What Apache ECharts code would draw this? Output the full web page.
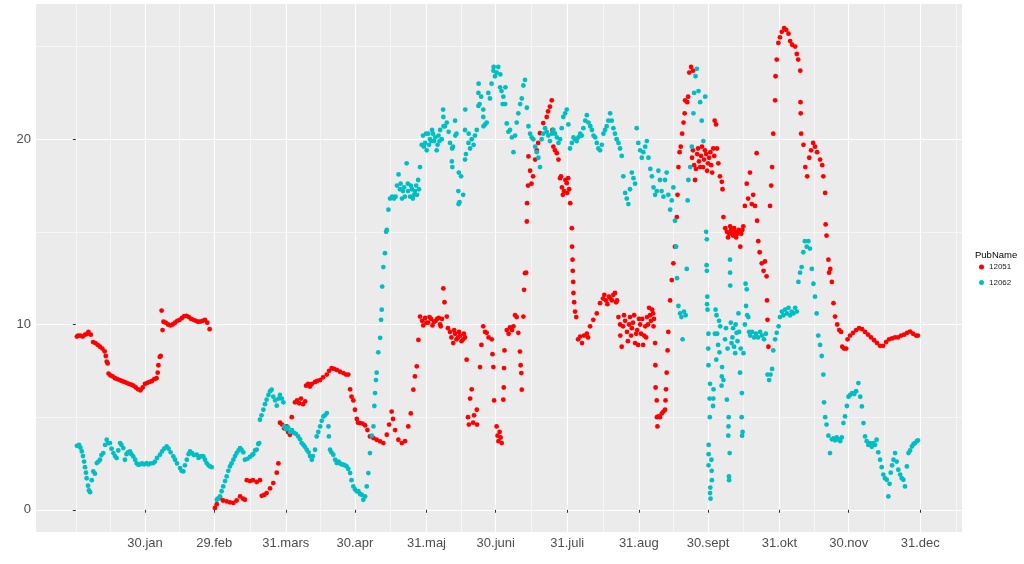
<!DOCTYPE html>
<html><head><meta charset="utf-8">
<script src="https://cdn.jsdelivr.net/npm/echarts@6/dist/echarts.min.js"></script>
<style>html,body{margin:0;padding:0;background:#fff}#c{width:1024px;height:564px}</style>
</head><body><div id="c"></div>
<script>
const seriesNames = ['12051', '12062'];
const seriesColors = ['#FF0000', '#00BFC4'];
const xTickDays = [30, 60, 91, 121, 152, 182, 213, 244, 274, 305, 335, 366];
const xTickLabels = ['30.jan', '29.feb', '31.mars', '30.apr', '31.maj', '30.juni', '31.juli', '31.aug', '30.sept', '31.okt', '30.nov', '31.dec'];
const xMinorDays = [0, 15, 45, 75.5, 106, 136.5, 167, 197.5, 228.5, 259, 289.5, 320, 350.5, 381.5];
const yTicks = [0, 10, 20];
const yMinor = [5, 15, 25];

// [day of year, value] — main trace
const pts12051 = [[0.5,9.35],[1,9.4],[2,9.4],[3,9.35],[4,9.45],[5,9.5],[5.5,9.6],[6.5,9.45],[7.5,9.05],[8.5,9.0],[9.5,8.9],[10.5,8.8],[11.5,8.7],[12.5,8.55],[13,8.3],[13.4,8.0],[13.8,7.9],[14.2,7.35],[15,7.25],[16,7.2],[17,7.1],[18,7.05],[19,7.0],[20,6.95],[21,6.9],[22,6.85],[23,6.8],[24,6.75],[25,6.7],[26,6.6],[27,6.5],[28,6.45],[29,6.6],[30,6.8],[31,6.85],[32,6.9],[33,6.95],[34,7.05],[35,7.1],[35.5,7.4],[35.8,7.8],[36.4,8.25],[36.8,8.3],[37.2,10.75],[37.6,9.7],[38,10.15],[39,10.1],[40,10.0],[41,9.95],[42,10.0],[43,10.1],[44,10.2],[45,10.25],[46,10.35],[47,10.45],[48,10.47],[49,10.4],[50,10.3],[51,10.25],[52,10.2],[53,10.15],[54,10.16],[55,10.2],[56,10.25],[57,10.1],[58,9.75],
[60.3,0.1],[61.1,0.3],[62.5,0.65],[63.8,0.5],[65.4,0.45],[66.8,0.4],[68.3,0.37],[69.7,0.5],[71.2,0.72],[72.5,0.6],[73.3,0.54],[74.1,1.6],[75.5,1.55],[76.8,1.6],[78.4,1.5],[79.8,1.6],[80.6,0.75],[81.6,0.8],[82.7,0.9],[84.2,1.15],[85.6,1.44],[87.1,2.0],[87.8,2.5],[88.5,4.7],[89.4,4.6],[90.3,4.4],[91.4,4.5],[92,4.2],[92.8,4.05],[93.6,5.0],[95,5.8],[95.9,5.9],[96.8,5.75],[97.6,6.0],[98.5,5.7],[99.4,5.85],[99.8,6.7],[100.7,6.8],[101.5,6.65],[102.4,6.8],[103.7,6.9],[104.6,6.95],[105.9,7.0],[107.2,7.15],[108.8,7.3],[109.8,7.5],[110.9,7.65],[111.9,7.6],[113.1,7.55],[114.5,7.45],[116,7.38],[117.1,7.3],[118.1,7.3],[118.9,6.5],[119.5,6.1],[120.3,5.9],[121,5.4],[121.8,4.9],[122.3,4.7],[123.2,4.68],[124.3,4.65],[125.4,4.55],[126.4,4.3],[127.5,3.96],[129,3.87],[130.4,3.78],[131.9,3.69],[133.3,3.6],[134.8,4.05],[135.8,4.6],[136.9,5.3],[137.5,4.9],[138.4,4.3],[139.8,3.78],[141.3,3.6],[142.7,3.7],[144.1,4.5],[145.2,5.2],[146.3,6.48],[147,7.2],[147.8,7.74],[148.5,9.17],[149.2,10.43],[150.1,10.2],[151.4,10.35],[152.7,10.1],[154,10.3],[155.3,10.15],[156.6,10.3],[157.9,10.0],[158.7,10.3],[159.3,11.95],[159.8,11.2],[160.8,10.43],[161.3,9.8],[162.2,9.6],[163.6,9.0],[164.4,9.5],[165.7,9.3],[166.6,9.4],[167.9,9.2],[168.7,9.3],[169.4,8.1],[170,5.0],[170.4,4.6],[170.9,6.0],[171.6,6.5],[172.2,4.7],[172.6,5.1],[173.8,5.4],[173.9,4.6],[175.2,7.7],[175.8,8.9],[176.6,9.9],[177.4,9.6],[178.1,9.55],[178.9,9.3],[180.3,9.2],[180.6,8.4],[181,7.7],[181.3,5.9],[182.4,4.5],[182.8,4.0],[183.2,3.7],[183.7,4.2],[184.1,3.9],[184.6,3.6],[185.3,5.94],[185.5,6.6],[185.6,7.65],[185.8,8.6],[186.8,9.7],[187.6,9.5],[188.2,9.85],[189.1,9.7],[189.7,9.9],[190.4,10.5],[191.1,10.4],[191.8,9.55],[192.5,8.54],[192.8,7.8],[193.1,7.38],[193.3,6.48],[194,10.43],[194.3,11.87],[194.7,12.77],[195.2,12.8],[195.5,15.56],[195.6,16.55],[196,17.5],[196.2,19.07],[196.9,18.3],[197.5,17.6],[198.2,18.0],[199.1,18.9],[199.8,19.4],[200.4,19.8],[201.2,20.33],[202.6,20.87],[204.1,21.2],[204.7,21.5],[205.5,21.76],[206.3,22.1],[206.6,20.5],[207,19.6],[207.7,19.4],[208.5,19.25],[209.2,18.9],[209.9,17.9],[210.7,17.4],[211.6,17.2],[212.8,17.63],[213.4,17.9],[213.8,17.3],[214.3,16.55],[215,15.2],[215.1,14.2],[215.3,13.5],[215.4,12.9],[215.6,12.3],[215.7,11.7],[216,11.2],[216.4,10.7],[216.9,10.4],[217.7,9.2],[218.6,9.35],[219.4,9.0],[220.3,9.4],[221.5,9.5],[222,9.3],[222.9,9.9],[224.3,10.25],[225.8,10.6],[227.2,11.15],[228.5,11.4],[229.8,11.3],[231.1,11.5],[232.4,11.3],[233.7,11.7],[234.6,11.3],[235.2,10.4],[235.9,10.0],[236.6,8.8],[237.2,9.9],[238.1,10.2],[238.9,9.6],[239.8,10.0],[240.7,9.4],[241.5,10.1],[242.4,9.0],[243.3,9.7],[244.1,10.3],[245,9.5],[245.9,8.9],[246.8,9.9],[247.6,10.4],[248.5,10.9],[249.3,10.2],[250.2,10.6],[250.6,10.3],[251.1,9.0],[251.2,7.8],[251.3,6.6],[251.8,5.9],[251.9,5.0],[252.1,4.5],[252.5,5.04],[253.2,5.0],[254,5.2],[254.7,5.3],[255.4,5.4],[255.6,5.9],[255.8,6.5],[256.1,7.4],[256.5,8.6],[256.8,9.6],[257.6,11.3],[258.3,12.4],[259,13.3],[259.7,14.2],[260.5,15.8],[260.8,17.0],[261.2,18.5],[261.7,19.3],[262.2,19.6],[262.8,20.3],[263.4,20.9],[263.9,21.4],[264.1,22.1],[265,22.0],[265.4,22.3],[265.9,23.6],[266.7,23.9],[267.6,23.7],[267.1,19.0],[268,18.6],[268.4,17.8],[269.3,19.2],[270.1,18.8],[271,19.1],[271.9,18.5],[272.7,19.4],[273.6,18.3],[274.5,19.0],[275.4,18.6],[276.3,19.5],[276.9,21.0],[277.5,20.8],[277.9,19.5],[278.5,18.7],[279.2,18.0],[280,17.7],[280.3,17.3],[280.7,15.8],[282.2,15.0],[283.2,14.9],[284,15.1],[284.9,14.8],[285.8,15.0],[286.7,14.9],[288,14.2],[288.9,15.1],[289.3,15.3],[290,16.4],[290.8,17.6],[291.4,16.8],[292.2,18.2],[293,16.5],[293.6,17.0],[294.4,16.4],[295.1,19.25],[295.3,15.6],[295.8,14.5],[296.4,13.9],[297.3,13.3],[298.1,12.9],[298.7,13.4],[299.4,12.6],[299.6,11.3],[299.8,10.25],[300.2,8.8],[300.9,16.4],[301.4,17.5],[301.8,18.5],[302.3,20.3],[303.1,22.1],[303.3,23.4],[303.8,24.3],[304.5,25.2],[305.2,25.5],[306,25.8],[307,26.0],[307.9,25.9],[308.9,25.7],[309.6,25.3],[310.5,25.1],[311.8,25.0],[312.5,24.6],[313.1,24.3],[314,23.7],[314.1,22.0],[314.2,21.4],[314.4,20.3],[315.4,19.7],[316.2,18.5],[317,18.0],[317.9,19.0],[318.7,19.4],[319.6,19.8],[320.4,19.6],[321.3,19.3],[322.6,18.9],[323.5,18.6],[324,18.0],[324.8,17.1],[325,15.4],[325.4,14.8],[326.2,13.5],[326.5,12.8],[327,13.0],[327.7,12.3],[328.4,11.15],[329.1,10.43],[330,10.0],[330.9,9.7],[331.7,9.6],[332.2,8.8],[333,8.7],[333.9,8.7],[334.5,9.2],[335.6,9.4],[336.9,9.55],[338.2,9.7],[339.5,9.8],[340.8,9.75],[342.1,9.6],[343.4,9.45],[344.7,9.3],[346,9.15],[347.3,9.0],[348.6,8.85],[349.9,8.85],[351.2,9.05],[352.5,9.2],[353.8,9.25],[355.1,9.3],[356.4,9.3],[357.7,9.4],[359,9.45],[360.3,9.55],[361.6,9.62],[362.9,9.5],[364.2,9.4],[365,9.4]];

// extra readings inside the noisy clusters of 12051
const pts12051Spread = [[150.6,9.95],[151.9,10.1],[153.3,10.4],[154.6,9.95],[156,10.2],[157.3,10.35],[158.2,9.9],[162.8,9.3],[164,9.7],[165,9.2],[166.1,9.6],[167.2,9.1],[168.2,9.5],[210.3,18.0],[211.1,17.0],[212.2,17.8],[213,17.1],[229.1,11.6],[230.4,11.1],[231.8,11.4],[233,11.6],[234.2,11.2],[236,9.4],[237.6,10.5],[239.3,9.1],[240.2,10.4],[241,9.8],[242,10.5],[242.9,9.5],[243.7,8.9],[244.6,10.0],[245.5,10.3],[246.3,9.4],[247.2,9.3],[248,10.0],[248.9,10.5],[249.8,10.8],[250.4,9.9],[267.5,19.4],[268.8,18.4],[269.7,19.5],[270.6,18.5],[271.4,19.6],[272.3,18.9],[273.2,19.2],[274,18.7],[275,19.3],[275.8,18.2],[276.7,19.1],[281.5,15.2],[282.7,14.7],[283.6,15.3],[284.5,14.9],[285.3,15.2],[286.2,14.7],[287.3,15.1],[288.4,14.9]];

const pts12062 = [[0.5,3.45],[1.4,3.5],[2,3.35],[2.6,3.15],[3.1,2.9],[3.6,2.6],[4,2.3],[4.4,2.0],[4.7,1.7],[5.3,1.3],[5.7,1.05],[6.2,0.95],[6.9,1.6],[7.6,2.07],[8.3,1.95],[9.1,2.52],[9.8,2.6],[10.5,2.7],[11.1,2.95],[11.9,3.06],[12.7,3.5],[13.4,3.78],[14.1,3.6],[14.8,3.6],[15.5,3.3],[16.3,3.06],[17,2.9],[17.7,2.79],[18.4,3.2],[19.2,3.6],[19.8,3.5],[20.6,3.33],[21.3,2.7],[22,3.0],[22.6,3.1],[23.5,3.15],[24.1,3.0],[24.9,2.88],[25.7,2.7],[26.4,2.5],[27.1,2.43],[27.8,2.45],[28.7,2.5],[29.6,2.45],[30.7,2.52],[31.5,2.45],[32.4,2.5],[33.6,2.52],[34.3,2.6],[35.2,2.8],[36.5,2.97],[37.4,3.15],[38.3,3.3],[39.4,3.42],[40.2,3.3],[41.1,3.1],[42.3,2.88],[43,2.7],[43.9,2.5],[45.2,2.25],[45.8,2.1],[46.6,2.07],[47.3,2.4],[48.1,2.7],[48.9,3.0],[49.5,3.15],[50.4,3.05],[51.2,2.95],[52.4,2.97],[53.2,2.8],[53.8,2.88],[54.7,2.9],[55.3,2.88],[56,2.7],[56.7,2.52],[57.5,2.4],[58.2,2.34],[58.9,2.3],
[61.1,0.54],[61.6,0.6],[62.5,0.72],[63.2,1.0],[63.9,1.26],[64.7,1.55],[65.4,1.8],[66.1,2.1],[66.8,2.34],[67.5,2.5],[68.3,2.7],[69,2.9],[69.7,3.06],[70.5,3.2],[71.2,3.33],[71.8,3.25],[72.6,3.1],[73.3,2.7],[74.4,2.75],[75.5,2.85],[76.4,2.95],[76.9,3.0],[77.7,3.2],[78.4,3.25],[79.1,3.55],[79.5,3.6],[79.8,4.86],[80.5,5.1],[81.3,5.4],[82,5.7],[82.7,5.94],[83.5,6.2],[84.2,6.4],[84.9,6.48],[85.6,6.1],[86.4,5.9],[87.1,5.62],[87.9,6.0],[88.5,6.2],[89.3,6.0],[89.96,5.8],[90.3,4.5],[91.1,4.35],[92,4.45],[92.9,4.2],[93.7,4.3],[94.6,4.15],[95.4,4.1],[96.4,3.96],[97.2,3.8],[97.9,3.6],[98.7,3.5],[99.3,3.4],[100.1,3.24],[100.9,3.1],[101.5,2.9],[102.3,2.7],[102.8,2.9],[103.7,3.24],[104.4,3.96],[105.1,4.2],[105.9,4.5],[106.6,4.8],[107.3,5.04],[108,5.1],[108.8,5.22],[109.5,4.5],[109.7,3.96],[110.2,3.24],[110.8,3.1],[111.6,2.97],[112.4,2.7],[113.1,2.52],[113.9,2.6],[114.5,2.5],[115.3,2.45],[116,2.43],[116.7,2.4],[117.4,2.34],[118.1,2.2],[118.9,1.98],[119.5,1.6],[120.3,1.26],[121,1.1],[121.8,0.99],[122.5,1.0],[123.2,0.85],[123.9,0.81],[124.6,0.54],[125.4,0.72],[126.1,1.26],[126.8,1.98],[127.5,3.06],[128.3,4.0],[129,4.5],[129.4,5.6],[129.7,6.3],[130.1,7.0],[130.4,7.4],[131.1,8.5],[131.9,9.28],[132.3,10.25],[132.6,10.8],[132.8,12.05],[133.3,13.1],[134,13.85],[134.5,15.0],[134.8,15.1],[135.5,16.2],[136.2,16.8],[137.1,16.9],[137.9,16.8],[138.6,16.9],[139.2,17.5],[139.9,18.1],[140.5,17.3],[141.4,16.8],[142.3,17.4],[143.4,18.7],[144,17.2],[144.9,16.9],[145.7,17.3],[146.6,17.0],[147.5,17.5],[148.4,17.8],[149.2,18.5],[149.9,19.7],[150.5,20.2],[151.4,19.8],[152.1,19.4],[152.7,20.3],[153.5,20.0],[154.4,20.5],[155.3,19.9],[156.4,19.4],[157.2,20.2],[157.9,20.5],[158.6,20.0],[159.3,21.2],[160,20.7],[160.8,20.9],[161.6,20.4],[162.2,19.8],[163,18.8],[163.5,19.6],[164.4,21.0],[165,20.3],[165.8,17.2],[166.3,16.6],[167,18.0],[167.9,17.0],[168.7,20.5],[169.1,19.2],[170.2,19.8],[170.9,19.5],[171.6,20.0],[172.4,19.7],[173,20.2],[173.8,20.5],[174.5,22.5],[175,21.9],[175.7,22.3],[176.6,21.2],[177.4,20.8],[178.1,20.9],[178.8,22.5],[179.5,22.2],[180.2,23.0],[181,23.7],[181.7,23.4],[182.4,23.6],[183.1,23.9],[183.9,22.8],[184.5,22.6],[185.3,22.3],[186.1,21.9],[186.8,20.85],[187.5,20.4],[188.2,20.5],[189,20.1],[189.7,19.3],[190.4,20.2],[191.1,20.9],[191.8,21.4],[192.6,21.9],[193.3,22.2],[194,22.9],[194.7,23.2],[195.5,21.7],[196.2,20.7],[196.9,20.3],[197.6,20.1],[198.3,20.0],[199.1,19.6],[199.8,19.3],[200.5,19.0],[201.2,18.5],[201.9,20.0],[202.6,20.3],[203.4,20.6],[204.1,20.4],[204.8,20.2],[205.5,19.9],[206.3,20.3],[207,20.5],[207.7,20.3],[208.5,20.1],[209.2,19.8],[209.9,20.0],[210.6,20.6],[211.3,21.2],[212.1,21.4],[212.8,21.6],[213.5,20.8],[214.2,19.5],[215,19.8],[215.7,20.1],[216.4,20.0],[217.1,19.9],[217.8,20.1],[218.6,20.3],[219.3,20.2],[220,20.6],[220.8,21.0],[221.5,21.3],[222.2,20.9],[223,20.7],[223.7,20.5],[224.4,20.2],[225.1,20.1],[225.8,19.8],[226.5,19.5],[227.2,19.4],[228,19.7],[228.7,20.3],[229.4,20.5],[230.1,20.7],[230.8,21.0],[231.6,21.4],[232.3,21.0],[233,20.6],[233.7,20.3],[234.4,20.0],[235.2,19.8],[235.9,19.5],[236.6,19.1],[237.3,18.0],[238.1,17.1],[238.8,16.8],[239.5,16.5],[240.2,17.3],[241,18.2],[241.7,17.9],[242.4,17.6],[243.1,20.6],[243.8,19.8],[244.6,19.4],[245.3,19.0],[246,19.3],[246.8,19.6],[247.5,19.9],[248.2,19.0],[249,18.4],[249.7,18.0],[250.4,17.4],[251.1,17.0],[251.8,17.2],[252.5,18.3],[253.2,17.8],[253.9,17.2],[254.7,16.9],[255.4,17.8],[256.1,18.2],[256.8,17.0],[257.6,16.2],[258.3,16.7],[259,17.4],[259.7,15.6],[260.2,14.2],[260.6,12.5],[261.2,11.0],[261.9,10.6],[262.5,10.4],[263,9.2],[263.6,10.7],[264.3,10.5],[264.8,13.0],[265.2,16.7],[265.5,17.8],[266.3,18.5],[267,19.6],[267.7,21.4],[268,22.5],[268.6,23.4],[269.2,23.8],[269.9,22.6],[270.6,22.0],[271.3,21.0],[272,19.9],[272.8,22.3],[273.2,15.0],[273.4,13.2],[273.6,11.1],[274.1,8.7],[274.3,3.0],[274.7,6.0],[274.9,0.9],[275.1,0.6],[275.6,2.1],[276.3,6.0],[277,9.5],[277.7,10.5],[278.4,8.9],[279.3,9.9],[280,7.2],[280.7,7.0],[281.4,9.2],[282.2,5.94],[282.9,4.5],[283.1,1.8],[283.4,3.06],[283.6,12.8],[284.2,9.0],[284.9,9.8],[285.8,8.45],[286.4,9.55],[287.2,10.6],[287.9,7.4],[288.6,5.0],[289,4.2],[289.4,8.45],[290,10.0],[290.8,11.9],[291.5,10.4],[292.3,9.4],[293.1,9.6],[294,9.3],[294.8,9.5],[295.7,9.3],[296.6,9.6],[297.4,9.4],[298.3,9.2],[299.1,9.5],[299.8,7.3],[300.5,7.0],[301.1,7.3],[301.8,7.6],[302.3,8.6],[303.1,9.2],[303.8,9.55],[304.6,9.9],[305.2,10.4],[306,10.7],[306.7,10.5],[307.4,10.8],[308.2,10.6],[308.9,10.9],[309.6,10.5],[310.3,10.7],[311,10.6],[311.8,10.9],[312.5,10.7],[313.2,12.3],[313.9,12.8],[314.6,13.1],[315.3,13.9],[316,14.5],[316.8,14.2],[317.5,14.5],[318.2,14.1],[319,13.0],[319.7,12.2],[320.4,11.5],[321.1,10.6],[321.8,9.4],[322.6,8.9],[323.3,8.3],[324,7.3],[324.3,5.8],[324.8,5.0],[325.4,4.6],[326.2,4.0],[326.9,3.06],[327.7,3.8],[328.4,3.85],[329.1,3.75],[329.8,3.9],[330.5,3.8],[331.3,3.7],[332,3.9],[332.7,4.68],[333.4,5.04],[334.2,5.6],[334.9,6.1],[335.6,6.2],[336.5,6.3],[337.4,6.25],[338.2,6.4],[339.2,6.84],[340,6.1],[340.7,5.58],[341.4,4.68],[342.1,3.96],[342.8,3.7],[343.5,3.5],[344.2,3.6],[345,3.4],[345.7,3.6],[346.4,3.5],[347.1,3.78],[347.8,3.1],[348.6,2.7],[349.3,2.3],[350,1.9],[350.7,1.7],[351.5,1.62],[352.2,0.72],[352.7,1.4],[353.2,2.0],[353.8,2.4],[354.4,2.7],[355.1,3.06],[355.8,2.6],[356.5,2.16],[357.3,1.9],[358,1.7],[358.7,1.62],[359.4,1.26],[360.2,2.34],[360.9,3.06],[361.6,3.2],[362.4,3.42],[363.1,3.55],[363.8,3.6],[364.5,3.7],[365,3.75]];

// extra readings inside the noisy clusters of 12062
const pts12062Spread = [[140.8,17.6],[141.8,17.2],[142.6,16.9],[143.9,17.6],[145.2,17.5],[146.1,16.8],[147,17.2],[147.9,17.0],[148.7,17.3],[150.9,19.6],[151.8,20.3],[153.1,19.7],[154,19.9],[154.8,20.3],[155.8,20.1],[156.8,19.7],[157.6,19.9],[159.4,20.7],[159.2,21.6],[163.1,19.5],[163.2,18.5],[164.5,20.2],[165.9,16.5],[166,18.2],[168.7,18.9],[168.8,21.6],[170.3,20.3],[174.5,21.8],[174.6,23.0],[176.6,21.6],[176.7,20.7],[181.1,23.9],[184,23.5],[185,21.9],[186.2,22.8],[273.5,14.6],[273.5,12.9],[273.7,11.5],[273.8,10.8],[274.2,9.5],[274.2,7.8],[274.8,5.0],[274.9,6.8],[274.25,2.4],[274.3,3.5],[275.0,1.2],[275.5,2.7],[275.7,1.6],[276.2,5.6],[276.4,6.5],[277.3,10.8],[277.6,8.1],[278,9.5],[278.8,10.2],[279,8.5],[280.1,7.7],[279.9,6.7],[281.8,9.8],[282.5,8.7],[283.9,10.1],[284.6,9.3],[285.3,8.8],[286,10.0],[286.8,9.1],[287.5,9.6],[288.2,8.7],[282.8,4.0],[283,5.0],[283.15,1.6],[283.55,13.5],[283.65,12.1],[288.7,6.3],[288.8,4.0],[290.3,12.2],[290.5,11.0],[291,10.5],[291.8,9.6]];

const FONT = '"Liberation Sans", Arial, sans-serif';
const chart = echarts.init(document.getElementById('c'), null, {renderer: 'canvas'});
const X_MIN = -17.25, X_MAX = 384.1, Y_MIN = -1.2, Y_MAX = 27.3;

chart.setOption({
  animation: false,
  backgroundColor: '#ffffff',
  grid: {left: 36, right: 62, top: 4, bottom: 32, show: true, backgroundColor: '#EBEBEB', borderWidth: 0},
  xAxis: [
    {
      type: 'value', min: X_MIN, max: X_MAX, position: 'bottom',
      axisLine: {show: false},
      axisTick: {show: true, length: 3, lineStyle: {color: '#333333', width: 1}, customValues: xTickDays},
      axisLabel: {
        show: true, customValues: xTickDays, margin: 5, fontSize: 13, color: '#4D4D4D', fontFamily: FONT,
        formatter: v => { const i = xTickDays.indexOf(v); return i >= 0 ? xTickLabels[i] : ''; }
      },
      splitLine: {show: true, lineStyle: {color: '#FFFFFF', width: 1.1}}
    },
    {
      type: 'value', min: X_MIN, max: X_MAX, position: 'bottom',
      axisLine: {show: false},
      axisTick: {show: false, customValues: xMinorDays},
      axisLabel: {show: false, customValues: xMinorDays},
      splitLine: {show: true, lineStyle: {color: '#FFFFFF', width: 0.55}}
    }
  ],
  yAxis: [
    {
      type: 'value', min: Y_MIN, max: Y_MAX,
      axisLine: {show: false},
      axisTick: {show: true, length: 3, lineStyle: {color: '#333333', width: 1}, customValues: yTicks},
      axisLabel: {show: true, customValues: yTicks, margin: 5, fontSize: 13, color: '#4D4D4D', fontFamily: FONT},
      splitLine: {show: true, lineStyle: {color: '#FFFFFF', width: 1.1}}
    },
    {
      type: 'value', min: Y_MIN, max: Y_MAX, position: 'left',
      axisLine: {show: false},
      axisTick: {show: false, customValues: yMinor},
      axisLabel: {show: false, customValues: yMinor},
      splitLine: {show: true, lineStyle: {color: '#FFFFFF', width: 0.55}}
    }
  ],
  legend: {
    show: true, orient: 'vertical', left: 979, top: 263, padding: 0,
    icon: 'circle', itemWidth: 5, itemHeight: 5, itemGap: 7.5,
    textStyle: {fontSize: 8, color: '#1A1A1A', fontFamily: FONT},
    data: seriesNames
  },
  graphic: [
    {type: 'text', left: 975, top: 250, style: {text: 'PubName', fontSize: 9.5, fill: '#000000', fontFamily: FONT}}
  ],
  series: [
    {name: seriesNames[0], type: 'scatter', xAxisIndex: 0, yAxisIndex: 0, data: pts12051.concat(pts12051Spread), symbolSize: 4.8,
     itemStyle: {color: seriesColors[0], opacity: 1}, emphasis: {disabled: true}},
    {name: seriesNames[1], type: 'scatter', xAxisIndex: 0, yAxisIndex: 0, data: pts12062.concat(pts12062Spread), symbolSize: 4.8,
     itemStyle: {color: seriesColors[1], opacity: 1}, emphasis: {disabled: true}}
  ]
});
</script>
</body></html>
